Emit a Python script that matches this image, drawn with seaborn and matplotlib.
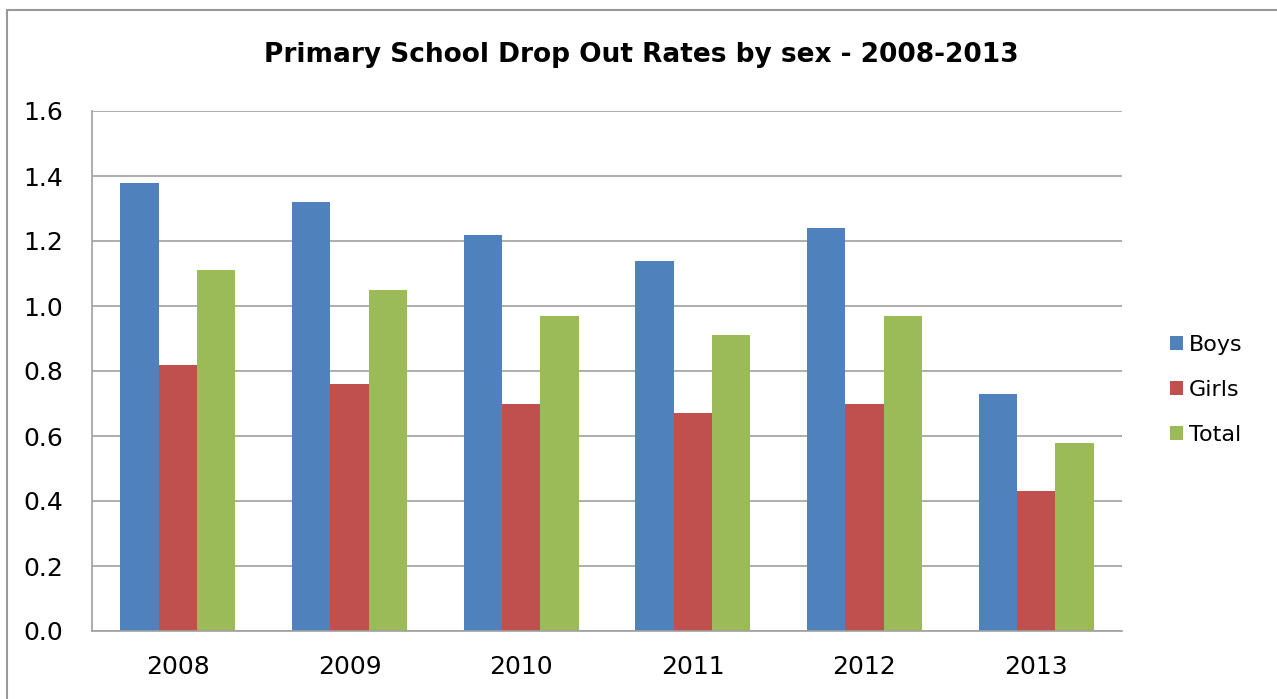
import pandas as pd
import seaborn as sns
import matplotlib.pyplot as plt
from matplotlib.lines import Line2D

# chart data
years = ["2008", "2009", "2010", "2011", "2012", "2013"]
boys = [1.38, 1.32, 1.22, 1.14, 1.24, 0.73]
girls = [0.82, 0.76, 0.70, 0.67, 0.70, 0.43]
total = [1.11, 1.05, 0.97, 0.91, 0.97, 0.58]
series = ["Boys", "Girls", "Total"]
colors = ["#4F81BD", "#C0504D", "#9BBB59"]

df = pd.DataFrame({"Year": years, "Boys": boys, "Girls": girls, "Total": total})
long_df = df.melt(id_vars="Year", var_name="Sex", value_name="Rate")

sns.set_theme(style="white")
plt.rcParams["font.family"] = ["DejaVu Sans"]

fig = plt.figure(figsize=(12.77, 6.99), dpi=100)
ax = fig.add_axes([92 / 1277, 68 / 699, 1030 / 1277, 520 / 699])

sns.barplot(data=long_df, x="Year", y="Rate", hue="Sex", hue_order=series,
            palette=colors, width=0.67, saturation=1, ax=ax, errorbar=None,
            linewidth=0)

ax.set_ylim(0, 1.6)
ax.set_yticks([0, 0.2, 0.4, 0.6, 0.8, 1.0, 1.2, 1.4, 1.6])
ax.set_yticklabels([f"{v:.1f}" for v in ax.get_yticks()])
ax.set_xlim(-0.5, 5.5)
ax.set_xlabel("")
ax.set_ylabel("")
ax.yaxis.grid(True, color="#a0a0a0", linewidth=1.2)
ax.set_axisbelow(True)
for s in ["top", "right"]:
    ax.spines[s].set_visible(False)
for s in ["left", "bottom"]:
    ax.spines[s].set_color("#a0a0a0")
    ax.spines[s].set_linewidth(1.2)
ax.tick_params(axis="both", length=0, labelsize=18, colors="black")
ax.tick_params(axis="x", pad=17)
ax.tick_params(axis="y", pad=21)

fig.suptitle("Primary School Drop Out Rates by sex - 2008-2013", x=0.502, y=1 - 55 / 699,
             fontsize=19, fontweight="bold", va="center", color="black")

leg = ax.legend(loc="center left", bbox_to_anchor=(1.0466, 0.4635), frameon=False,
                fontsize=16, handlelength=0.59, handleheight=0.59, handletextpad=0.25,
                labelspacing=1.12, borderpad=0, borderaxespad=0)
for t in leg.get_texts():
    t.set_color("black")

# outer frame (top and left edges visible)
fig.add_artist(Line2D([7 / 1277, 1.0], [1 - 10 / 699, 1 - 10 / 699], color="#999999", lw=1.5))
fig.add_artist(Line2D([7 / 1277, 7 / 1277], [0.0, 1 - 10 / 699], color="#999999", lw=1.5))

plt.savefig("out.png", dpi=100)
